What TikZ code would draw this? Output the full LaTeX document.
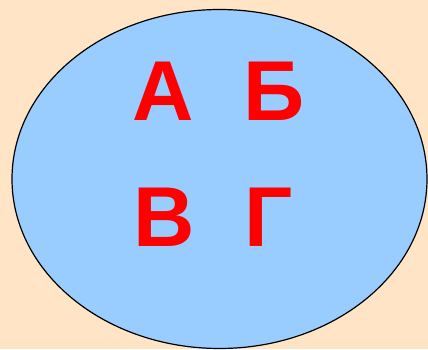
\documentclass[tikz,border=0pt]{standalone}
\usepackage{fontspec}
\setmainfont{Liberation Sans}
\usepackage{tikz}

\begin{document}
\begin{tikzpicture}[x=1pt, y=1pt, every node/.style={inner sep=0pt, anchor=base, font=\fontsize{85}{85}\selectfont\bfseries}]
  \definecolor{fondo}{RGB}{255,228,198}
  \definecolor{azulCielo}{RGB}{153,204,255}
  \definecolor{rojoLetra}{RGB}{255,0,0}

  \fill[fondo] (0,0) rectangle (428,349);
  \useasboundingbox (0,0) rectangle (428,349);
  \draw[fill=azulCielo, line width=1.2pt] (219.5,170) ellipse (207.5 and 169.5);

  \node[text=rojoLetra] (A) at (163.5,229) {А};
  \node[text=rojoLetra] (B) at (274,229)   {Б};
  \node[text=rojoLetra] (V) at (164.5,103) {В};
  \node[text=rojoLetra] (G) at (269,103)   {Г};
\end{tikzpicture}
\end{document}
